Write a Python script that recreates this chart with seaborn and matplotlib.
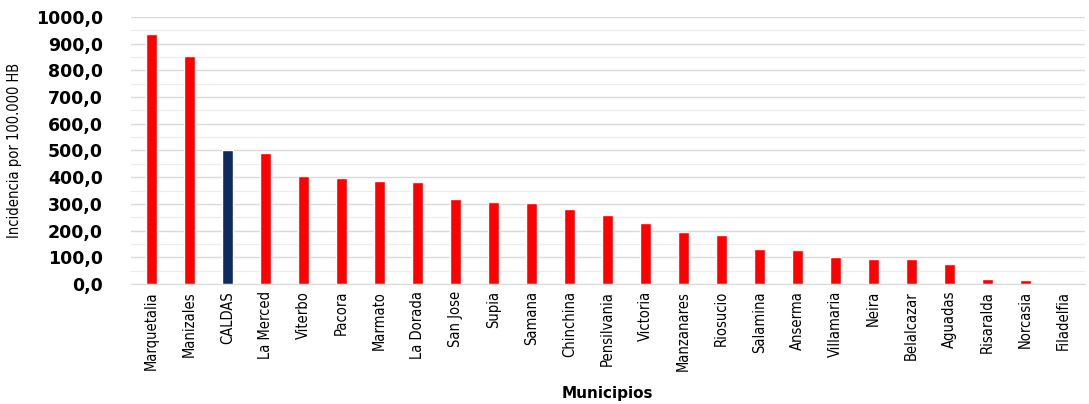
import matplotlib
matplotlib.use("Agg")
import matplotlib.pyplot as plt
from matplotlib.ticker import MultipleLocator, FuncFormatter
import pandas as pd
import seaborn as sns

municipios = [
    "Marquetalia", "Manizales", "CALDAS", "La Merced", "Viterbo", "Pacora",
    "Marmato", "La Dorada", "San Jose", "Supia", "Samana", "Chinchina",
    "Pensilvania", "Victoria", "Manzanares", "Riosucio", "Salamina", "Anserma",
    "Villamaria", "Neira", "Belalcazar", "Aguadas", "Risaralda", "Norcasia",
    "Filadelfia",
]
incidencia = [
    935, 855, 502, 489, 405, 398, 387, 383, 319, 308, 304, 282,
    257, 230, 196, 182, 132, 128, 103, 95, 95, 76, 20, 16, 0,
]
grupo = ["Departamento" if m == "CALDAS" else "Municipio" for m in municipios]

df = pd.DataFrame({"municipio": municipios, "incidencia": incidencia, "grupo": grupo})

sns.set_style("white")
plt.rcParams["font.family"] = ["DejaVu Sans"]
plt.rcParams["text.color"] = "black"
plt.rcParams["axes.labelcolor"] = "black"
plt.rcParams["xtick.color"] = "black"
plt.rcParams["ytick.color"] = "black"

fig = plt.figure(figsize=(10.89, 4.04), dpi=100)
ax = fig.add_axes([0.12, 0.297, 0.876, 0.661])

sns.barplot(
    data=df, x="municipio", y="incidencia", hue="grupo",
    palette={"Municipio": "#ff0000", "Departamento": "#0d2b5e"},
    saturation=1, width=0.28, dodge=False, legend=False, ax=ax,
)

ax.set_ylim(0, 1000)
ax.set_xlim(-0.55, len(municipios) - 0.45)
ax.yaxis.set_major_locator(MultipleLocator(100))
ax.yaxis.set_minor_locator(MultipleLocator(50))
ax.yaxis.set_major_formatter(FuncFormatter(lambda v, _: f"{v:.1f}".replace(".", ",")))
ax.grid(axis="y", which="major", color="#d9d9d9", lw=1.0)
ax.grid(axis="y", which="minor", color="#ececec", lw=0.8)
ax.set_axisbelow(True)
for s in ["top", "right", "left"]:
    ax.spines[s].set_visible(False)
ax.spines["bottom"].set_color("#d9d9d9")

ax.tick_params(axis="y", length=0, pad=20)
ax.tick_params(axis="x", length=0, pad=5)
for lab in ax.get_yticklabels():
    lab.set_fontweight("bold")
    lab.set_fontsize(12.5)
ax.set_xticks(range(len(municipios)))
ax.set_xticklabels(municipios, rotation=90, fontsize=10.5, fontstretch="condensed")

ax.set_xlabel("Municipios", fontweight="bold", fontsize=11, labelpad=11)
ax.set_ylabel("Incidencia por 100.000 HB", fontsize=10.5, fontstretch="condensed", labelpad=10)

fig.savefig("out.png", dpi=100)
